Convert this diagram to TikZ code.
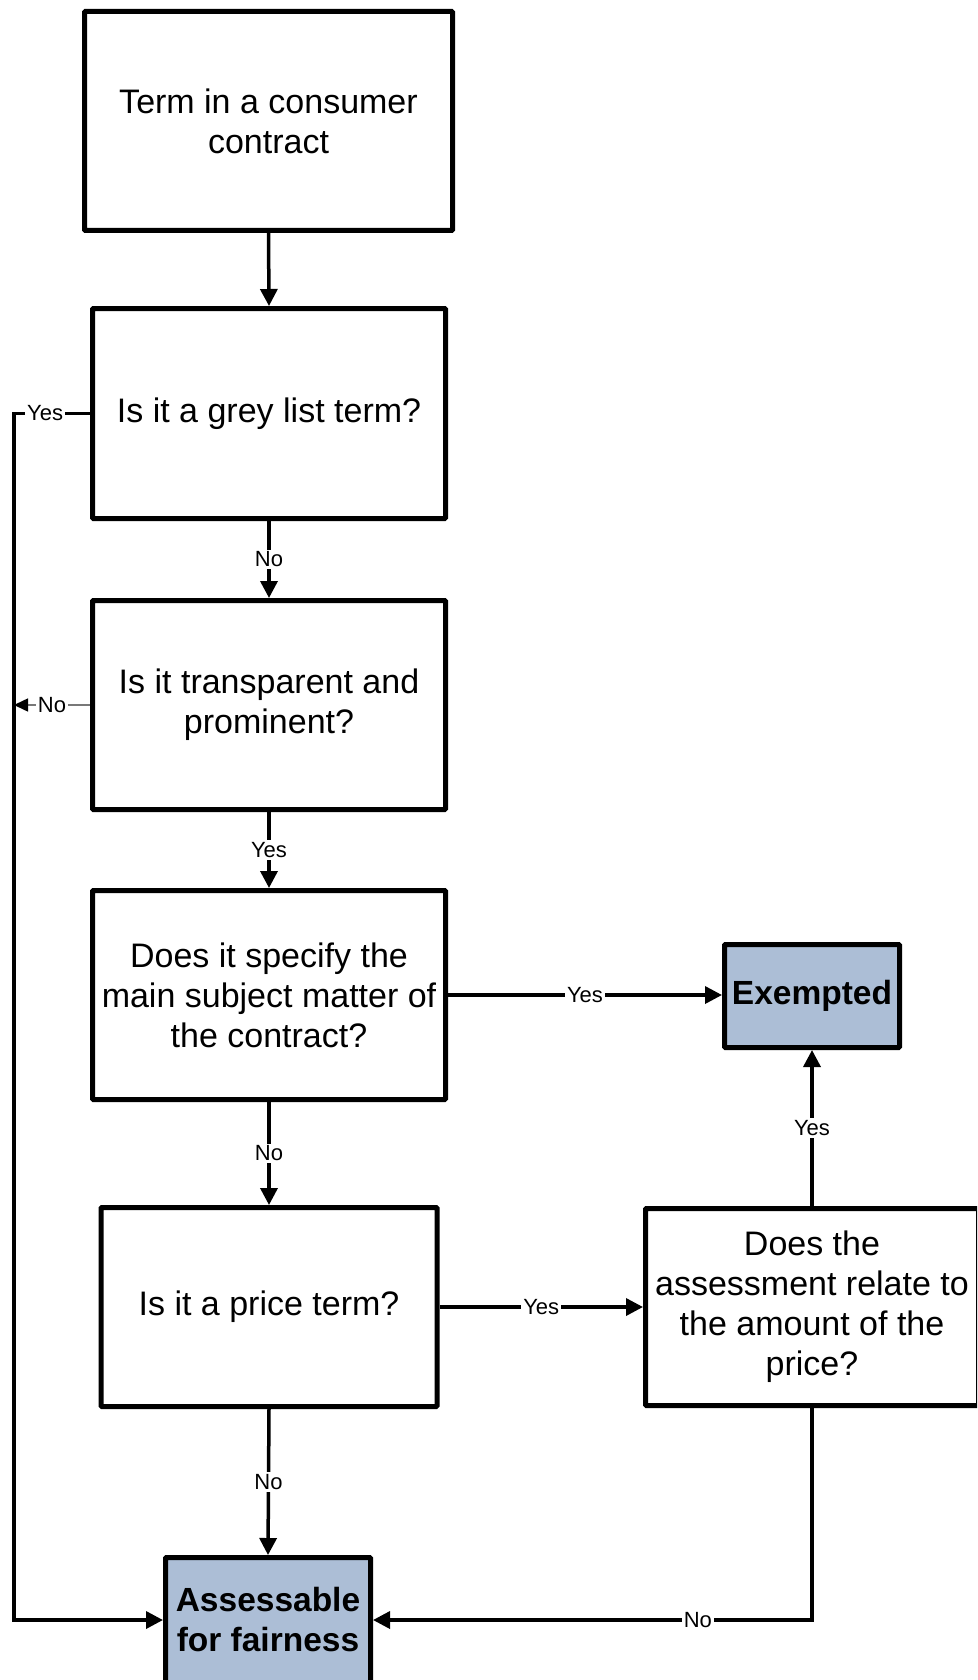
\documentclass[tikz,border=0pt]{standalone}
\usepackage{fontspec}
\setmainfont{Liberation Sans}
\usetikzlibrary{arrows.meta}
\definecolor{endfill}{RGB}{172,190,214}
\definecolor{thingrey}{RGB}{120,120,120}
\tikzset{
  stepbox/.style={draw=black, line width=5pt, fill=white, align=center, inner sep=0pt,
    font=\fontsize{34}{40}\selectfont, rounded corners=1pt},
  endbox/.style={stepbox, fill=endfill, font=\fontsize{33.5}{40}\selectfont\bfseries},
  conn/.style={line width=3.5pt, -{Triangle[length=17pt,width=17pt]}},
  lbl/.style={fill=white, inner sep=2pt, font=\fontsize{22}{26}\selectfont},
}
\begin{document}
\begin{tikzpicture}[x=1pt,y=-1pt]
\useasboundingbox (0,0) rectangle (977,1680);
\clip (0,0) rectangle (977,1680);

\node[stepbox, minimum width=368pt, minimum height=219pt] (b1) at (268.5,121) {Term in a consumer\\contract};
\node[stepbox, minimum width=353pt, minimum height=210pt] (b2) at (269,413.5) {Is it a grey list term?};
\node[stepbox, minimum width=353pt, minimum height=209pt] (b3) at (269,705) {Is it transparent and\\prominent?};
\node[stepbox, minimum width=353pt, minimum height=209pt] (b4) at (269,995) {Does it specify the\\main subject matter of\\the contract?};
\node[stepbox, minimum width=336pt, minimum height=199pt] (b5) at (269,1307) {Is it a price term?};
\node[stepbox, minimum width=333pt, minimum height=197pt] (b6) at (812,1307) {Does the\\assessment relate to\\the amount of the\\price?};
\node[endbox, minimum width=175pt, minimum height=103pt] (ex) at (812,996) {Exempted};
\node[endbox, minimum width=205pt, minimum height=125pt] (as) at (268,1620) {Assessable\\for fairness};

\coordinate (ltop) at (14,413.5);
\coordinate (lbot) at (14,1620);

\draw[conn] (b1.south) -- (b2.north);
\draw[conn] (b2.south) -- node[lbl]{No} (b3.north);
\draw[conn] (b3.south) -- node[lbl]{Yes} (b4.north);
\draw[conn] (b4.south) -- node[lbl]{No} (b5.north);
\draw[conn] (b5.south) -- node[lbl]{No} (as.north);
\draw[conn] (b4.east) -- node[lbl]{Yes} (b4.east -| ex.west);
\draw[conn] (b5.east) -- node[lbl]{Yes} (b6.west);
\draw[conn] (b6.north) -- node[lbl]{Yes} (ex.south);
\draw[conn] (b6.south) |- node[lbl, pos=0.63]{No} (as.east);
\draw[conn, line join=miter] (b2.west) -- node[lbl, pos=0.59]{Yes} (ltop) -- (lbot) -- (as.west);
\draw[line width=1.5pt, draw=thingrey, -{Triangle[length=14pt,width=13pt,color=black]}] (b3.west) -- node[lbl, pos=0.5]{No} (b3.west -| ltop);
\end{tikzpicture}
\end{document}
